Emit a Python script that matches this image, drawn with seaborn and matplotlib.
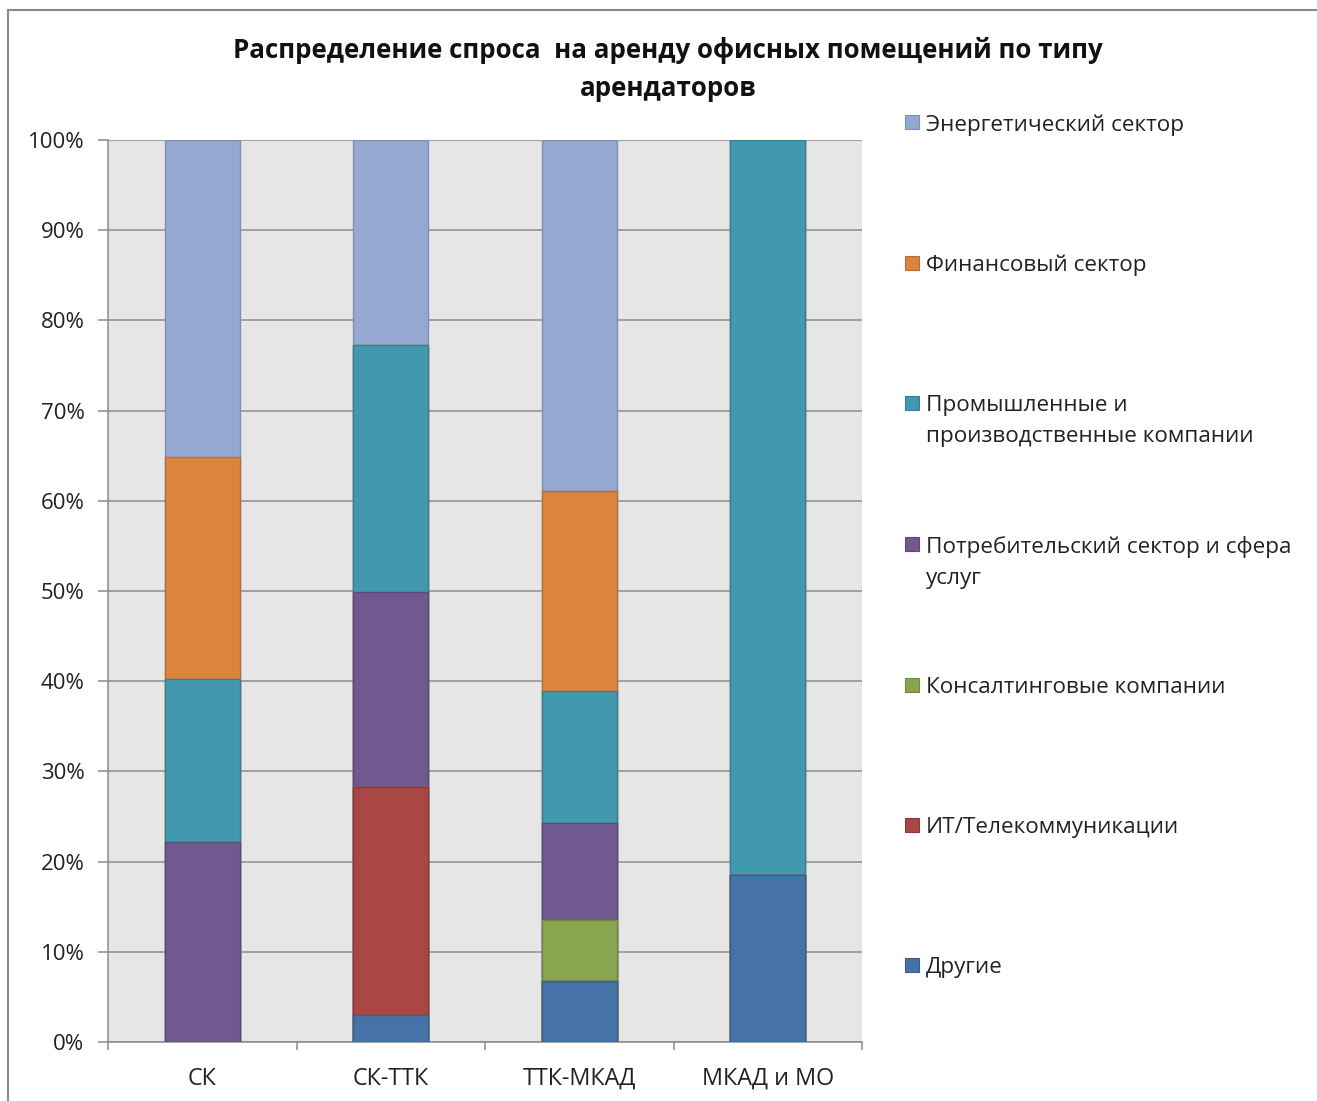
import pandas as pd
import numpy as np
import matplotlib.pyplot as plt
import seaborn as sns
from matplotlib.patches import Rectangle

# data (percent of demand per zone)
zones = ["СК", "СК-ТТК", "ТТК-МКАД", "МКАД и МО"]
others = [0.0, 3.0, 6.8, 18.5]
it_telecom = [0.0, 25.3, 0.0, 0.0]
consulting = [0.0, 0.0, 6.7, 0.0]
consumer = [22.2, 21.6, 10.8, 0.0]
industrial = [18.0, 27.4, 14.6, 81.5]
finance = [24.7, 0.0, 22.2, 0.0]
energy = [35.1, 22.7, 38.9, 0.0]

# bottom -> top stacking order
SERIES = [
    ("Другие", others, "#4572A7", "#3A5F8C"),
    ("ИТ/Телекоммуникации", it_telecom, "#AA4643", "#8C3A37"),
    ("Консалтинговые компании", consulting, "#89A54E", "#718940"),
    ("Потребительский сектор и сфера\nуслуг", consumer, "#71588F", "#5D4876"),
    ("Промышленные и\nпроизводственные компании", industrial, "#4198AF", "#367F92"),
    ("Финансовый сектор", finance, "#DB843D", "#B86E32"),
    ("Энергетический сектор", energy, "#95A9D0", "#7D8FB3"),
]

df = pd.DataFrame({name: vals for name, vals, _, _ in SERIES}, index=zones)
df = df.div(df.sum(axis=1), axis=0) * 100
cum = df.cumsum(axis=1)
cum.index.name = "zone"
cum = cum.reset_index()

sns.set_style("whitegrid")
plt.rcParams['font.family'] = ['Open Sans', 'DejaVu Sans']

fig = plt.figure(figsize=(13.17, 11.01), dpi=100)
ax = fig.add_axes([108 / 1317, 1 - 1042 / 1101, (862 - 108) / 1317, (1042 - 140) / 1101])
ax.set_facecolor("#E6E6E6")

# draw cumulative totals from the top series down so lower segments sit on top
for name, _, color, edge in reversed(SERIES):
    sns.barplot(data=cum, x="zone", y=name, order=zones, color=color, saturation=1,
                width=0.4, edgecolor=edge, linewidth=1.0, ax=ax, zorder=3)

ax.set_ylim(0, 100)
ax.set_xlim(-0.5, 3.5)
ax.set_yticks(np.arange(0, 101, 10))
ax.set_yticklabels([f"{v}%" for v in range(0, 101, 10)])
ax.set_xlabel("")
ax.set_ylabel("")

ax.grid(False)
ax.yaxis.grid(True, color="#8C8C8C", linewidth=1.1, zorder=0)
ax.set_axisbelow(True)
for s in ["top", "right"]:
    ax.spines[s].set_visible(False)
for s in ["left", "bottom"]:
    ax.spines[s].set_visible(True)
    ax.spines[s].set_color("#8C8C8C")
    ax.spines[s].set_linewidth(1.1)

ax.tick_params(axis="y", length=7, width=1.1, color="#8C8C8C", pad=10,
               labelsize=16, labelcolor="#222222", left=True)
ax.tick_params(axis="x", which="major", length=0, pad=18, labelsize=16.8, labelcolor="#222222")
ax.set_xticks(np.arange(-0.5, 4, 1), minor=True)
ax.tick_params(axis="x", which="minor", length=6, width=1.1, color="#8C8C8C", bottom=True)

fig.text(668 / 1317, 1 - 51 / 1101, "Распределение спроса  на аренду офисных помещений по типу",
         ha="center", va="center", fontsize=18.6, fontweight="bold", color="#111111")
fig.text(668 / 1317, 1 - 89 / 1101, "арендаторов",
         ha="center", va="center", fontsize=18.6, fontweight="bold", color="#111111")

# legend, top entry = top of stack
leg_y = [122, 263, 403, 544, 685, 825, 965]
for (name, _, color, edge), y in zip(reversed(SERIES), leg_y):
    fig.patches.append(Rectangle((905 / 1317, 1 - (y + 7) / 1101), 14 / 1317, 14 / 1101,
                                 transform=fig.transFigure, facecolor=color,
                                 edgecolor=edge, linewidth=0.8, figure=fig))
    fig.text(926 / 1317, 1 - (y - 8) / 1101, name, ha="left", va="top",
             fontsize=16.2, color="#222222", linespacing=1.6)

# outer chart border
fig.patches.append(Rectangle((8 / 1317, -0.05), 1.1, 1 - 10 / 1101 + 0.05,
                             transform=fig.transFigure, facecolor="none",
                             edgecolor="#8A8A8A", linewidth=1.5, figure=fig))

fig.savefig("out.png", dpi=100)
